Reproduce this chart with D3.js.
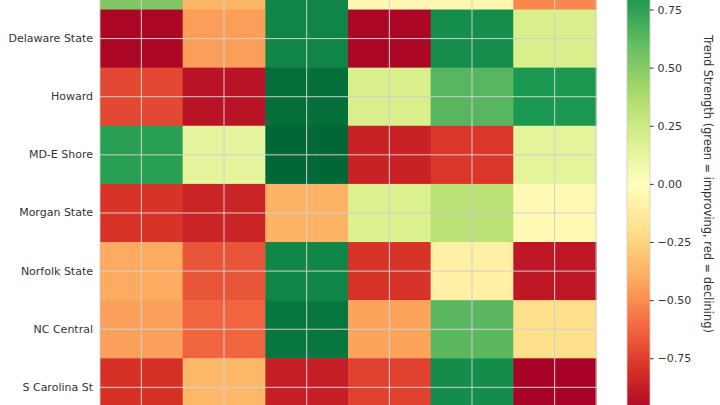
<!DOCTYPE html>
<html>
<head>
<meta charset="utf-8">
<script src="https://cdn.jsdelivr.net/npm/d3@7/dist/d3.min.js"></script>
<style>
body {
  margin: 0;
  background-color: white;
  overflow: hidden;
}
.lab text {
  font-family: "DejaVu Sans", sans-serif;
  font-size: 11px;
  fill: #333;
}
</style>
</head>
<body>
<script>
// rows (top one is cut off by the frame), columns, trend strength per cell
const schools = ["Coppin State", "Delaware State", "Howard", "MD-E Shore",
                 "Morgan State", "Norfolk State", "NC Central", "S Carolina St"];
const columns = ["C1", "C2", "C3", "C4", "C5", "C6"];
const coppin    = [0.52, -0.37, 0.88, -0.05, -0.06, -0.52];
const delaware  = [-0.97, -0.45, 0.88, -0.97, 0.84, 0.20];
const howard    = [-0.72, -0.92, 0.97, 0.20, 0.64, 0.80];
const mdeShore  = [0.76, 0.13, 1.00, -0.86, -0.78, 0.14];
const morgan    = [-0.79, -0.85, -0.38, 0.19, 0.32, -0.04];
const norfolk   = [-0.41, -0.68, 0.87, -0.79, -0.10, -0.90];
const ncCentral = [-0.44, -0.63, 0.94, -0.43, 0.63, -0.20];
const scState   = [-0.80, -0.36, -0.87, -0.74, 0.85, -0.99];
const values = [coppin, delaware, howard, mdeShore, morgan, norfolk, ncCentral, scState];
const cbTicks = [-1, -0.75, -0.5, -0.25, 0, 0.25, 0.5, 0.75, 1];
const cbLabel = "Trend Strength (green = improving, red = declining)";

const W = 720, H = 405;
const svg = d3.select("body").append("svg")
              .attr("width", W).attr("height", H);

const plotTop = -48.6, plotBottom = 416.4;
const x = d3.scaleBand().domain(columns).range([100, 596]);
const y = d3.scaleBand().domain(schools).range([plotTop, plotBottom]);

// same as matplotlib RdYlGn: linear through the 11 brewer colours
const color = d3.scaleLinear()
                .domain(d3.range(11).map(i => -1 + i * 0.2))
                .range(d3.schemeRdYlGn[11]);

const cells = [];
values.forEach((row, i) => row.forEach((v, j) =>
  cells.push({school: schools[i], col: columns[j], v: v})));

svg.append("g").selectAll("rect")
   .data(cells)
   .join("rect")
   .attr("x", d => x(d.col))
   .attr("y", d => y(d.school))
   .attr("width", x.bandwidth() + 0.5)
   .attr("height", y.bandwidth() + 0.5)
   .attr("fill", d => color(d.v));

// grid at the cell centres
const grid = svg.append("g").attr("stroke", "#d0d0d0").attr("stroke-width", 1);
grid.selectAll("line.v").data(columns).join("line").attr("class", "v")
    .attr("x1", d => x(d) + x.bandwidth() / 2).attr("x2", d => x(d) + x.bandwidth() / 2)
    .attr("y1", plotTop).attr("y2", plotBottom);
grid.selectAll("line.h").data(schools).join("line").attr("class", "h")
    .attr("y1", d => y(d) + y.bandwidth() / 2).attr("y2", d => y(d) + y.bandwidth() / 2)
    .attr("x1", 100).attr("x2", 596);

svg.append("rect")
   .attr("x", 100).attr("y", plotTop).attr("width", 496).attr("height", plotBottom - plotTop)
   .attr("fill", "none").attr("stroke", "#cccccc").attr("stroke-width", 0.8);

// only the labels whose row centre is inside the frame show up
const inFrame = v => v > 6 && v < H - 6;
const yAxis = d3.axisLeft(y).tickSize(0).tickPadding(7)
                .tickValues(schools.filter(s => inFrame(y(s) + y.bandwidth() / 2)));
svg.append("g")
   .attr("class", "lab")
   .attr("transform", "translate(100,0)")
   .call(yAxis)
   .call(g => g.select(".domain").remove());

// colour bar
const cbX = 627, cbW = 23;
const cbScale = d3.scaleLinear().domain([-1, 1]).range([plotBottom, plotTop]);
const grad = svg.append("defs").append("linearGradient")
                .attr("id", "cb").attr("x1", 0).attr("x2", 0).attr("y1", 1).attr("y2", 0);
grad.selectAll("stop").data(d3.range(0, 1.0001, 0.05)).join("stop")
    .attr("offset", d => d)
    .attr("stop-color", d => color(-1 + 2 * d));
svg.append("rect")
   .attr("x", cbX).attr("y", plotTop).attr("width", cbW).attr("height", plotBottom - plotTop)
   .attr("fill", "url(#cb)").attr("stroke", "#cccccc").attr("stroke-width", 0.8);

const cbAxis = d3.axisRight(cbScale)
                 .tickValues(cbTicks.filter(t => inFrame(cbScale(t))))
                 .tickFormat(d3.format(".2f")).tickSize(3.5).tickPadding(4);
svg.append("g")
   .attr("class", "lab")
   .attr("transform", `translate(${cbX + cbW}, 0)`)
   .call(cbAxis)
   .call(g => g.select(".domain").remove())
   .call(g => g.selectAll(".tick line").attr("stroke", "#333"));

svg.append("g").attr("class", "lab")
   .append("text")
   .attr("transform", `translate(704, ${cbScale(0)}) rotate(90)`)
   .attr("text-anchor", "middle")
   .style("font-size", "11.4px")
   .text(cbLabel);
</script>
</body>
</html>
